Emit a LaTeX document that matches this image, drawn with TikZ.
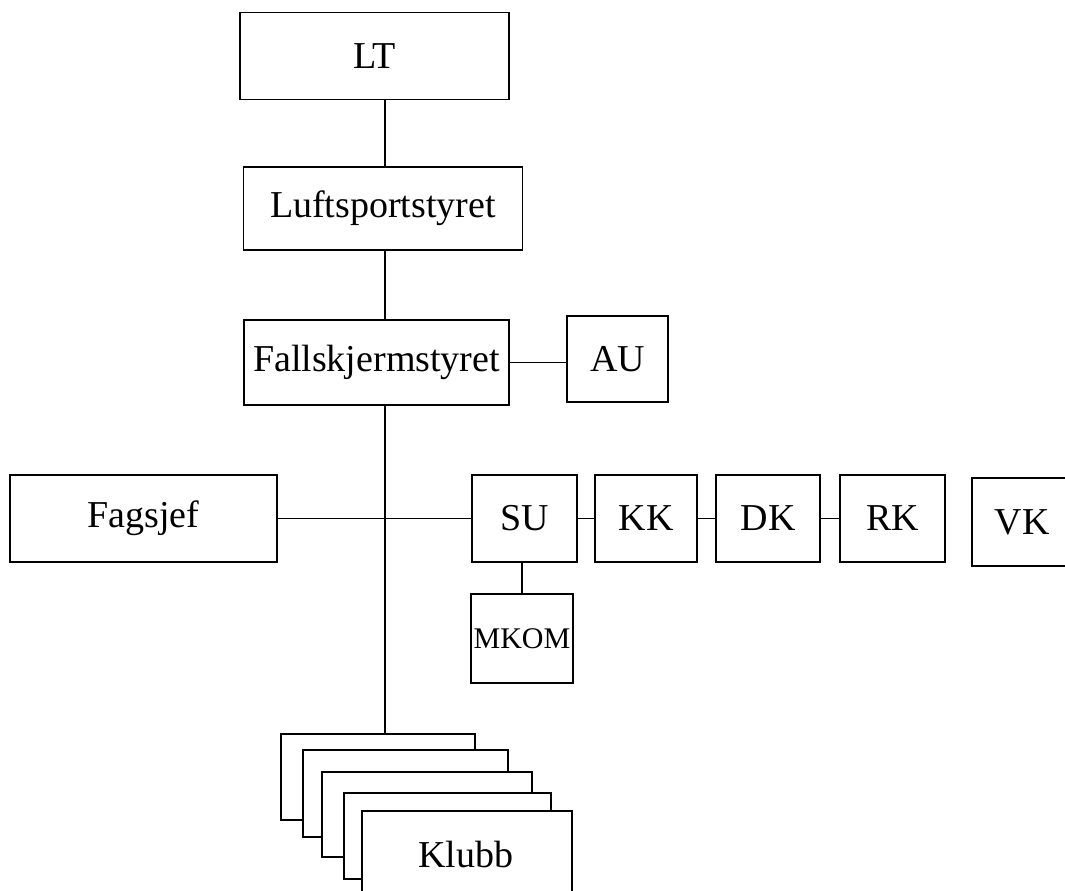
\documentclass[tikz,border=0pt]{standalone}
\usepackage{fontspec}
\setmainfont{Liberation Serif}
\begin{document}
\begin{tikzpicture}[x=1pt,y=-1pt,line width=1.9pt,
    boks/.style={draw,fill=white,inner sep=0pt,font=\fontsize{38}{40}\selectfont},
    klubb/.style={draw,fill=white}]
    \useasboundingbox (0,0) rectangle (1065,891);

    % Hovedlinje
    \coordinate (T) at (385,0);

    \node[boks,minimum width=269,minimum height=87] (LT) at (374.5,56) {LT};
    \node[boks,minimum width=279,minimum height=83] (LS) at (383,208.5) {Luftsportstyret};
    \node[boks,minimum width=265,minimum height=85] (FS) at (376.5,362.5) {Fallskjermstyret};
    \node[boks,minimum width=101,minimum height=86] (AU) at (617.5,359) {AU};

    \node[boks,minimum width=267,minimum height=87] (FJ) at (143.5,518.5) {Fagsjef};
    \node[boks,minimum width=105,minimum height=87] (SU) at (524.5,518.5) {SU};
    \node[boks,minimum width=102,minimum height=87] (KK) at (646,518.5) {KK};
    \node[boks,minimum width=104,minimum height=87] (DK) at (768,518.5) {DK};
    \node[boks,minimum width=105,minimum height=87] (RK) at (892.5,518.5) {RK};
    \node[boks,minimum width=100,minimum height=88] (VK) at (1022,522) {VK};
    \node[boks,minimum width=102,minimum height=89,font=\fontsize{30}{32}\selectfont] (MK) at (522,638.5) {MKOM};

    % Klubber
    \draw[klubb] (281,734) rectangle (475,820);
    \draw[klubb] (303,750) rectangle (508,837);
    \draw[klubb] (322,772) rectangle (532,857);
    \draw[klubb] (344,793) rectangle (551,879);
    \node[boks,minimum width=210,minimum height=86,anchor=north west] (KL) at (361,810) {};
    \node[font=\fontsize{38}{40}\selectfont] at (466,854) {Klubb};
    \coordinate (K1) at (385,734);

    \draw (LT.south -| T) -- (LS.north -| T);
    \draw (LS.south -| T) -- (FS.north -| T);
    \draw (FS.south -| T) -- (K1);
    \draw (FS.east) -- (FS.east -| AU.west);
    \draw (FJ.east) -- (SU.west);
    \draw (SU) -- (KK);
    \draw (KK) -- (DK);
    \draw (DK) -- (RK);
    \draw (SU.south -| MK.north) -- (MK.north);
\end{tikzpicture}
\end{document}
